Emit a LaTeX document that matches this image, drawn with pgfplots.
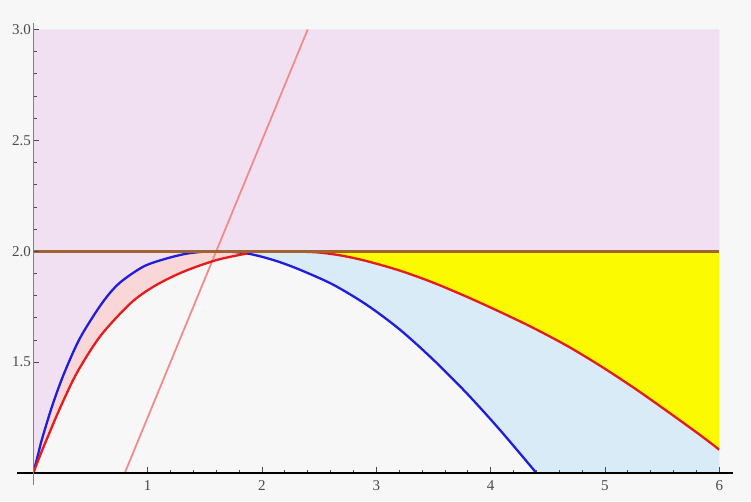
\documentclass[border=0pt]{standalone}
\usepackage{fontspec}
\setmainfont{Liberation Serif}
\usepackage{xcolor}
\usepackage{pgfplots}
\pgfplotsset{compat=1.18}

\definecolor{bgc}{RGB}{247,247,247}
\definecolor{lav}{RGB}{241,224,241}
\definecolor{pinkf}{RGB}{249,214,216}
\definecolor{bluef}{RGB}{218,235,248}
\definecolor{yelf}{RGB}{252,250,0}
\definecolor{brownl}{RGB}{160,100,48}
\definecolor{bluel}{RGB}{30,30,220}
\definecolor{redl}{RGB}{228,28,28}
\definecolor{slant}{RGB}{242,140,140}
\definecolor{tickc}{RGB}{75,75,75}

\begin{document}
\begin{tikzpicture}
\fill[bgc] (-33.3pt,-28pt) rectangle (717.7pt,473pt);
\begin{axis}[
    scale only axis,
    width=686pt, height=443.5pt,
    xmin=0, xmax=6, ymin=1, ymax=3,
    axis lines=left,
    axis on top,
    x axis line style={-, black, line width=1.5pt, shorten <=-16pt, shorten >=-14pt},
    y axis line style={-, gray, line width=1pt, shorten <=-12pt, shorten >=-6pt},
    xtick={1,2,3,4,5,6},
    ytick={1.5,2.0,2.5,3.0},
    minor x tick num=4,
    minor y tick num=4,
    tick align=inside,
    major tick length=6pt,
    minor tick length=3.5pt,
    every tick/.style={tickc, line width=0.8pt},
    yticklabel style={/pgf/number format/fixed, /pgf/number format/precision=1,
                      /pgf/number format/fixed zerofill},
    /pgf/number format/assume math mode=true,
    tick label style={font=\fontsize{15}{17}\selectfont, text=tickc},
    xticklabel style={yshift=-4pt},
    yticklabel style={xshift=1pt},
]
% lavender: above mu=2 and above the left blue branch
\addplot[fill=lav, draw=none] coordinates {
(0,1.0) (0.04,1.08) (0.08,1.16) (0.17,1.31) (0.27,1.45) (0.41,1.61)
(0.60,1.765) (0.75,1.855) (0.96,1.93) (1.15,1.965) (1.35,1.99) (1.55,2.0)
(6,2.0) (6,3) (0,3)
} -- cycle;
% pink: between blue and red left branches
\addplot[fill=pinkf, draw=none] coordinates {
(0,1.0) (0.04,1.08) (0.08,1.16) (0.17,1.31) (0.27,1.45) (0.41,1.61)
(0.60,1.765) (0.75,1.855) (0.96,1.93) (1.15,1.965) (1.35,1.99) (1.55,2.0)
(1.72,1.998) (1.87,1.99)
(1.60,1.96) (1.30,1.905) (1.05,1.84) (0.85,1.765) (0.59,1.62) (0.385,1.455)
(0.24,1.30) (0.12,1.155) (0.06,1.08)
} -- cycle;
% light blue: between blue right branch and red right branch
\addplot[fill=bluef, draw=none] coordinates {
(1.87,1.99) (1.72,1.998) (1.55,2.0) (2.2,2.0) (2.48,1.995) (2.70,1.98)
(2.92,1.955) (3.21,1.912) (3.50,1.858) (3.79,1.795) (4.08,1.727) (4.37,1.655)
(4.67,1.573) (4.96,1.483) (5.25,1.385) (5.54,1.28) (5.83,1.172) (6.0,1.105)
(6.0,1.0) (4.40,1.0) (4.08,1.195) (3.79,1.36) (3.50,1.51) (3.21,1.645)
(2.92,1.757) (2.62,1.85) (2.33,1.917) (2.15,1.952) (2.0,1.975)
} -- cycle;
% yellow: between red right branch and mu=2
\addplot[fill=yelf, draw=none] coordinates {
(2.2,2.0) (2.48,1.995) (2.70,1.98) (2.92,1.955) (3.21,1.912) (3.50,1.858)
(3.79,1.795) (4.08,1.727) (4.37,1.655) (4.67,1.573) (4.96,1.483) (5.25,1.385)
(5.54,1.28) (5.83,1.172) (6.0,1.105) (6.0,2.0)
} -- cycle;
% slanted line
\addplot[slant, line width=1.8pt] coordinates {(0.8,1.0) (2.4,3.0)};
% blue curve
\addplot[bluel, line width=2.3pt, smooth, tension=0.5] coordinates {
(0,1.0) (0.04,1.08) (0.08,1.16) (0.17,1.31) (0.27,1.45) (0.41,1.61)
(0.60,1.765) (0.75,1.855) (0.96,1.93) (1.15,1.965) (1.35,1.99) (1.55,2.0)
(1.72,1.998) (1.87,1.99) (2.0,1.975) (2.15,1.952) (2.33,1.917) (2.62,1.85)
(2.92,1.757) (3.21,1.645) (3.50,1.51) (3.79,1.36) (4.08,1.195) (4.40,1.0)
};
% red left branch
\addplot[redl, line width=2.3pt, smooth, tension=0.5] coordinates {
(0,1.0) (0.06,1.08) (0.12,1.155) (0.24,1.30) (0.385,1.455) (0.59,1.62)
(0.85,1.765) (1.05,1.84) (1.30,1.905) (1.60,1.96) (1.87,1.99)
};
% red right branch
\addplot[redl, line width=2.3pt, smooth, tension=0.5] coordinates {
(2.2,2.0) (2.48,1.995) (2.70,1.98) (2.92,1.955) (3.21,1.912) (3.50,1.858)
(3.79,1.795) (4.08,1.727) (4.37,1.655) (4.67,1.573) (4.96,1.483) (5.25,1.385)
(5.54,1.28) (5.83,1.172) (6.0,1.105)
};
% mu = 2 line
\addplot[brownl, line width=3pt] coordinates {(0,2.0) (6,2.0)};
\node[font=\fontsize{15}{16}\selectfont, text=tickc] at (rel axis cs:0,1) [yshift=18pt, xshift=2pt] {$\mu$};
\node[font=\fontsize{15}{16}\selectfont, text=tickc, anchor=west] at (rel axis cs:1,0) [xshift=21pt, yshift=1pt] {$\sigma$};
\end{axis}
\pgfresetboundingbox
\path[use as bounding box] (-33.3pt,-28pt) rectangle (717.7pt,473pt);
\end{tikzpicture}
\end{document}
